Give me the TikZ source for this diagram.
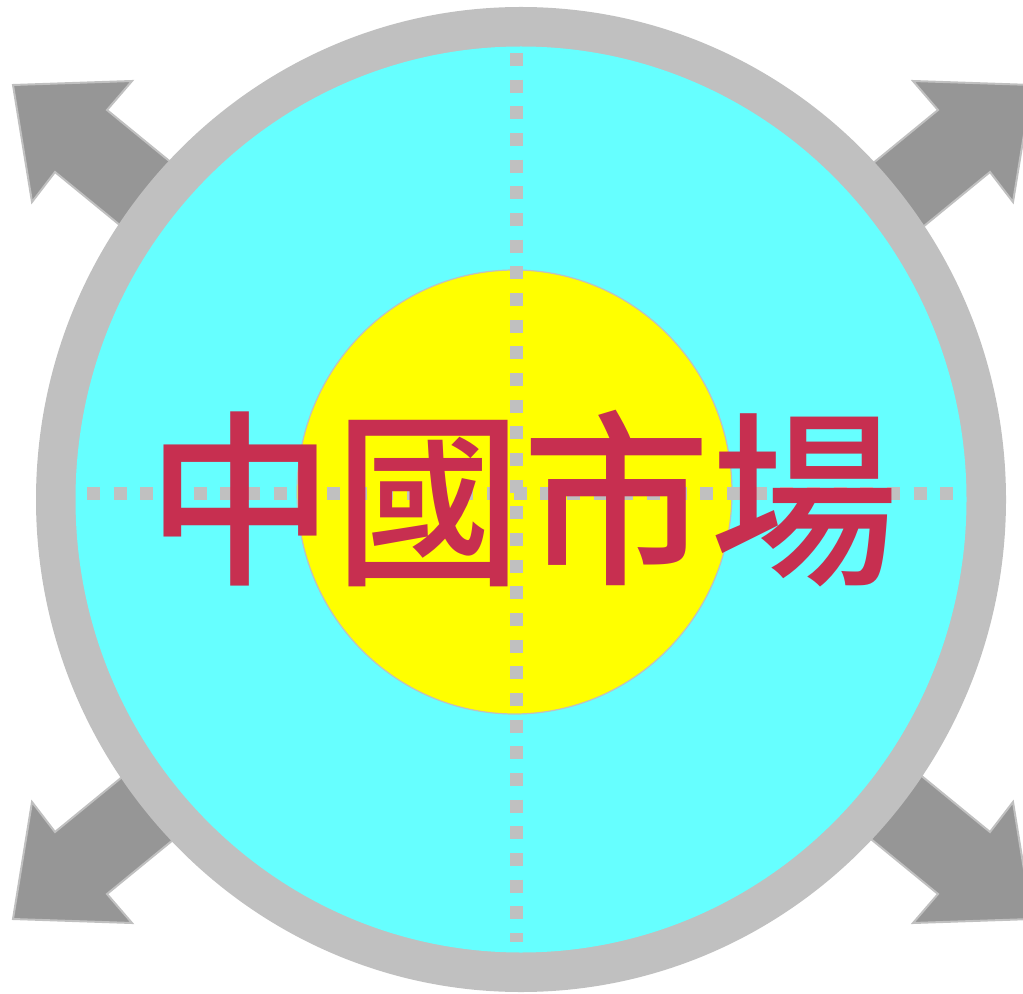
\documentclass[tikz,border=0pt]{standalone}
\usepackage{fontspec}
\newfontfamily\cjk{Noto Sans CJK TC}[UprightFont={* Medium}]
\definecolor{ringgray}{HTML}{C0C0C0}
\definecolor{arrowgray}{HTML}{969696}
\definecolor{cyanfill}{HTML}{66FFFF}
\definecolor{sunyellow}{HTML}{FFFF00}
\definecolor{textred}{HTML}{C72F50}
\tikzset{
  bigarrow/.style={fill=arrowgray, draw=ringgray, line width=1.5pt, line join=miter},
  dashline/.style={draw=ringgray, line width=9.75pt, dash pattern=on 9.75pt off 10.25pt},
}
\begin{document}
\begin{tikzpicture}[x=0.75pt,y=-0.75pt]
\useasboundingbox (0,0) rectangle (1023,994);
\clip (0,0) rectangle (1023,994);
% arrows (upper-left, then mirrored)
\foreach \sx/\sy/\ox/\oy in {1/1/0/0, -1/1/1045/0, 1/-1/0/1004, -1/-1/1045/1004}{
  \draw[bigarrow] (\ox+\sx*13,\oy+\sy*85) -- (\ox+\sx*132,\oy+\sy*81) -- (\ox+\sx*107,\oy+\sy*110)
     -- (\ox+\sx*223,\oy+\sy*205) -- (\ox+\sx*171,\oy+\sy*267) -- (\ox+\sx*55,\oy+\sy*172)
     -- (\ox+\sx*32,\oy+\sy*202) -- cycle;
}
\coordinate (c) at (521,499.5);
\fill[ringgray] (c) ellipse [x radius=485, y radius=492.5];
\fill[cyanfill] (c) ellipse [x radius=445.5, y radius=453];
\filldraw[fill=sunyellow, draw=ringgray, line width=0.9pt] (514.5,492) ellipse [x radius=217.5, y radius=222];
\coordinate (vt) at (516,53);
\coordinate (vb) at (516,942);
\coordinate (hl) at (87,493.5);
\coordinate (hr) at (958,493.5);
\draw[dashline] (vt) -- (vb);
\draw[dashline] (hl) -- (hr);
\node[text=textred, inner sep=0pt, font=\cjk\fontsize{141}{141}\selectfont] (title) at (522,499) {中國市場};
\end{tikzpicture}
\end{document}
